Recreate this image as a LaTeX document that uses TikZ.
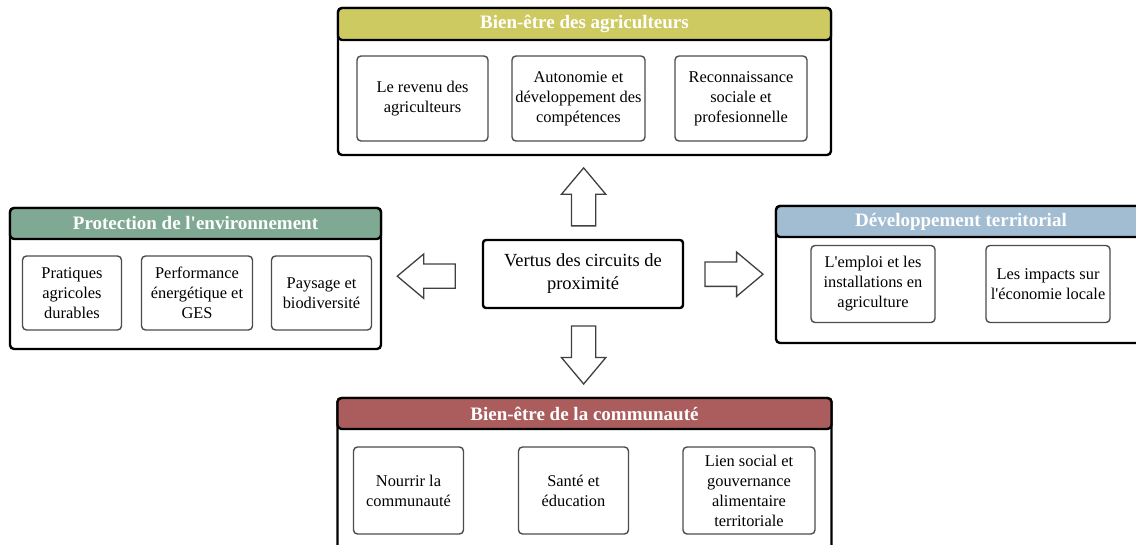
\documentclass[tikz,border=0pt]{standalone}
\usepackage{fontspec}
\setmainfont{Liberation Serif}
\usetikzlibrary{shapes.arrows,calc}
\definecolor{agriJaune}{RGB}{206,202,98}
\definecolor{envVert}{RGB}{127,169,147}
\definecolor{terrBleu}{RGB}{162,188,210}
\definecolor{commRouge}{RGB}{171,92,92}
\begin{document}
\begin{tikzpicture}[x=1pt,y=-1pt,cadre/.style={draw=black,line width=2.4pt,fill=white,rounded corners=4pt,inner sep=0pt},entete/.style={draw=black,line width=2.4pt,rounded corners=4pt,text=white,font=\fontsize{19}{22}\selectfont\bfseries,inner sep=0pt,minimum height=32pt},critere/.style={draw=black!70,line width=1.4pt,fill=white,rounded corners=4pt,align=center,font=\fontsize{16.4}{20}\selectfont,inner sep=0pt},fleche/.style={single arrow,draw=black!75,line width=1.3pt,fill=white,minimum height=58pt,single arrow head extend=10pt,single arrow tip angle=80,inner xsep=0pt,inner ysep=11.5pt}]
\useasboundingbox (0,0) rectangle (1136,545);

% Bien-etre des agriculteurs
\node[cadre,minimum width=493pt,minimum height=147pt] (agri) at (584.5,81.5) {};
\node[entete,fill=agriJaune,minimum width=493pt,anchor=north] (agriT) at (agri.north) {Bien-être des agriculteurs};
\node[critere,minimum width=131pt,minimum height=85pt] (agriA1) at (422.5,98.5) {Le revenu des\\agriculteurs};
\node[critere,minimum width=133pt,minimum height=85pt] (agriA2) at (578.5,98.5) {Autonomie et\\développement des\\compétences};
\node[critere,minimum width=132pt,minimum height=85pt] (agriA3) at (741,98.5) {Reconnaissance\\sociale et\\profesionnelle};

% Protection de l'environnement
\node[cadre,minimum width=371pt,minimum height=141pt] (env) at (195.5,278.5) {};
\node[entete,fill=envVert,minimum width=371pt,minimum height=31pt,anchor=north] (envT) at (env.north) {Protection de l\textquotesingle environnement};
\node[critere,minimum width=99pt,minimum height=74pt] (envA1) at (72,293) {Pratiques\\agricoles\\durables};
\node[critere,minimum width=111pt,minimum height=74pt] (envA2) at (197,293) {Performance\\énergétique et\\GES};
\node[critere,minimum width=100pt,minimum height=74pt] (envA3) at (321.5,293) {Paysage et\\biodiversité};

% Developpement territorial
\node[cadre,minimum width=370pt,minimum height=137pt] (terr) at (961,274.5) {};
\node[entete,fill=terrBleu,minimum width=370pt,minimum height=31pt,anchor=north] (terrT) at (terr.north) {Développement territorial};
\node[critere,minimum width=124pt,minimum height=77pt] (terrA1) at (873,284) {L\textquotesingle emploi et les\\installations en\\agriculture};
\node[critere,minimum width=124pt,minimum height=77pt] (terrA2) at (1048,284) {Les impacts sur\\l\textquotesingle économie locale};

% Bien-etre de la communaute
\node[cadre,minimum width=494pt,minimum height=152pt] (comm) at (584.5,474) {};
\node[entete,fill=commRouge,minimum width=494pt,minimum height=31pt,anchor=north] (commT) at (comm.north) {Bien-être de la communauté};
\node[critere,minimum width=110pt,minimum height=87pt] (commA1) at (408.5,490.5) {Nourrir la\\communauté};
\node[critere,minimum width=110pt,minimum height=87pt] (commA2) at (573.5,490.5) {Santé et\\éducation};
\node[critere,minimum width=132pt,minimum height=87pt] (commA3) at (749,490.5) {Lien social et\\gouvernance\\alimentaire\\territoriale};

% centre
\node[draw=black,line width=2.4pt,rounded corners=3pt,minimum width=200pt,minimum height=68pt,align=center,font=\fontsize{18.5}{23}\selectfont,inner sep=0pt] (vertus) at (583,274) {Vertus des circuits de\\proximité};

% fleches
\node[fleche,rotate=90] (versAgri) at ($(vertus.north)!0.42!(agri.south)$) {};
\node[fleche,rotate=180] (versEnv) at ($(vertus.west)!0.485!(env.east)$) {};
\node[fleche] (versTerr) at ($(vertus.east)!0.47!(terr.west)$) {};
\node[fleche,rotate=-90] (versComm) at ($(vertus.south)!0.44!(comm.north)$) {};
\end{tikzpicture}
\end{document}
